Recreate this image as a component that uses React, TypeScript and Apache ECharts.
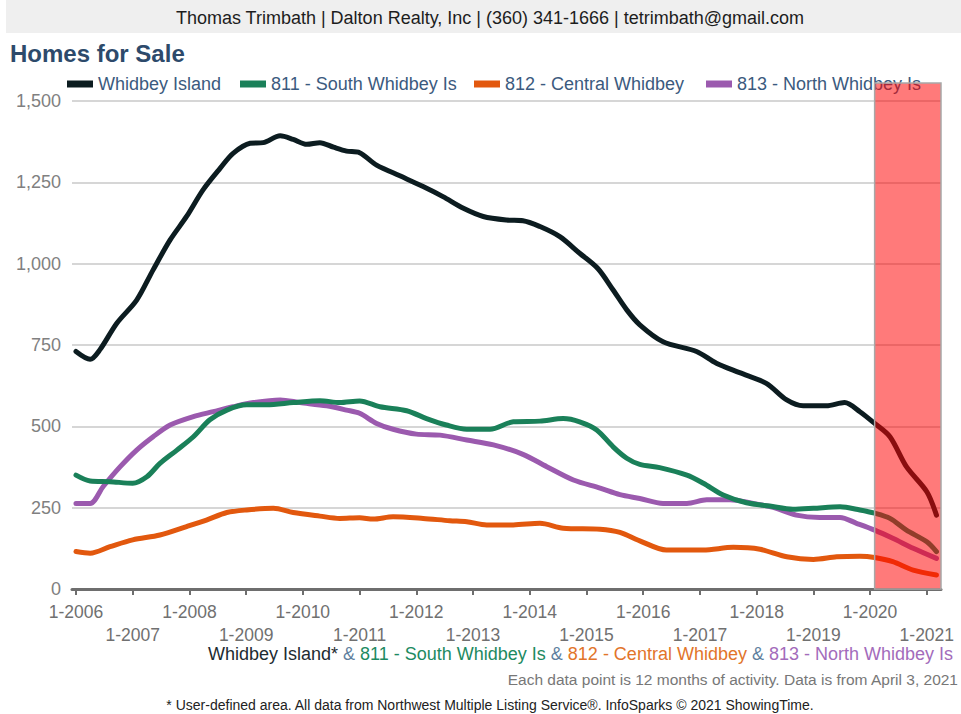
import React, { useEffect, useRef } from "react";
import * as echarts from "echarts";

const SERIES_NAMES = ["Whidbey Island", "811 - South Whidbey Is", "812 - Central Whidbey", "813 - North Whidbey Is"];
const SERIES_COLORS = ["#0c1c20", "#1a8059", "#e2580e", "#9b5aae"];

// [year (decimal), homes for sale]
const whidbeyIsland: [number, number][] = [
  [2006.0, 730], [2006.25, 706], [2006.42, 735], [2006.72, 817], [2007.07, 888], [2007.36, 981],
  [2007.66, 1073], [2007.95, 1145], [2008.24, 1227], [2008.54, 1293], [2008.77, 1339], [2009.07, 1370],
  [2009.3, 1372], [2009.6, 1393], [2009.83, 1382], [2010.07, 1367], [2010.3, 1372], [2010.54, 1358],
  [2010.77, 1346], [2011.0, 1341], [2011.3, 1303], [2011.71, 1270], [2012.12, 1237], [2012.47, 1206],
  [2012.83, 1170], [2013.18, 1145], [2013.59, 1134], [2013.88, 1132], [2014.18, 1114], [2014.53, 1083],
  [2014.88, 1032], [2015.2, 985], [2015.47, 919], [2015.71, 858], [2015.94, 812], [2016.35, 760],
  [2016.94, 730], [2017.29, 694], [2017.7, 665], [2018.17, 632], [2018.53, 581], [2018.82, 563],
  [2019.23, 563], [2019.55, 573], [2019.82, 545], [2020.08, 509], [2020.35, 468], [2020.64, 376],
  [2021.0, 299], [2021.17, 227],
];
const southWhidbey: [number, number][] = [
  [2006.0, 350], [2006.25, 332], [2006.6, 330], [2007.0, 325], [2007.25, 345], [2007.48, 386],
  [2007.78, 427], [2008.07, 468], [2008.36, 520], [2008.66, 550], [2009.01, 566], [2009.36, 566],
  [2009.83, 573], [2010.3, 579], [2010.65, 573], [2011.0, 578], [2011.36, 560], [2011.83, 548],
  [2012.18, 524], [2012.53, 504], [2012.89, 491], [2013.3, 491], [2013.71, 514], [2014.18, 516],
  [2014.59, 524], [2014.88, 514], [2015.18, 489], [2015.47, 437], [2015.71, 402], [2015.94, 383],
  [2016.29, 373], [2016.77, 350], [2017.06, 325], [2017.41, 289], [2017.82, 265], [2018.23, 255],
  [2018.64, 245], [2019.0, 248], [2019.47, 253], [2019.82, 243], [2020.08, 233], [2020.35, 217],
  [2020.64, 181], [2021.0, 145], [2021.17, 115],
];
const centralWhidbey: [number, number][] = [
  [2006.0, 115], [2006.25, 110], [2006.6, 130], [2007.0, 151], [2007.48, 166], [2007.95, 192],
  [2008.3, 212], [2008.66, 235], [2009.01, 243], [2009.48, 248], [2009.83, 235], [2010.3, 224],
  [2010.65, 217], [2011.0, 219], [2011.24, 215], [2011.59, 222], [2012.12, 217], [2012.59, 210],
  [2012.89, 207], [2013.24, 197], [2013.71, 197], [2014.18, 202], [2014.59, 187], [2015.24, 184],
  [2015.59, 174], [2015.94, 148], [2016.41, 120], [2017.06, 120], [2017.59, 128], [2018.06, 122],
  [2018.53, 99], [2019.0, 91], [2019.41, 99], [2019.82, 101], [2020.08, 97], [2020.4, 84],
  [2020.76, 58], [2021.17, 43],
];
const northWhidbey: [number, number][] = [
  [2006.0, 263], [2006.25, 263], [2006.48, 315], [2006.78, 376], [2007.07, 427], [2007.36, 468],
  [2007.66, 504], [2008.07, 530], [2008.42, 545], [2008.77, 560], [2009.13, 573], [2009.6, 581],
  [2009.95, 573], [2010.42, 563], [2010.77, 550], [2011.0, 540], [2011.3, 509], [2011.59, 491],
  [2012.0, 476], [2012.42, 473], [2012.89, 458], [2013.36, 443], [2013.88, 414], [2014.3, 376],
  [2014.77, 335], [2015.24, 310], [2015.59, 290], [2015.94, 278], [2016.35, 263], [2016.77, 263],
  [2017.12, 274], [2017.53, 274], [2017.94, 263], [2018.29, 251], [2018.7, 227], [2019.11, 220],
  [2019.47, 220], [2019.76, 202], [2020.08, 181], [2020.4, 156], [2020.76, 125], [2021.17, 94],
];
const SERIES_DATA = [whidbeyIsland, southWhidbey, centralWhidbey, northWhidbey];

const YEARS = [2006, 2007, 2008, 2009, 2010, 2011, 2012, 2013, 2014, 2015, 2016, 2017, 2018, 2019, 2020, 2021];
const EVEN_YEARS = YEARS.filter((y) => y % 2 === 0);
const ODD_YEARS = YEARS.filter((y) => y % 2 === 1);
const X_MIN = 2005.93;
const X_MAX = 2021.25;
const Y_TICKS_MAX = 1500;
const HIGHLIGHT_PERIOD = [2020.08, X_MAX];
const HIGHLIGHT_TOP = 1555;

const HEADER = "Thomas Trimbath | Dalton Realty, Inc | (360) 341-1666 | tetrimbath@gmail.com";
const TITLE = "Homes for Sale";
const NOTE1 = "Each data point is 12 months of activity. Data is from April 3, 2021";
const NOTE2 = "* User-defined area. All data from Northwest Multiple Listing Service®. InfoSparks © 2021 ShowingTime.";

const LEGEND_LEFT = [67, 240, 474, 706];
const FONT = "Liberation Sans";

export default function App() {
  const ref = useRef<HTMLDivElement>(null);
  useEffect(() => {
    if (!ref.current) return;
    const chart = echarts.init(ref.current, undefined, { renderer: "svg" });
    const yearLabel = (v: number) => "1-" + Math.round(v);
    const capSize = 18;
    const option: any = {
      animation: false,
      textStyle: { fontFamily: FONT },
      title: {
        text: TITLE,
        left: 10,
        top: 41,
        padding: 0,
        textStyle: { fontSize: 24, fontWeight: "bold", color: "#2d4a6b", fontFamily: FONT },
      },
      legend: SERIES_NAMES.map((n, i) => ({
        data: [n],
        left: LEGEND_LEFT[i],
        top: 75,
        padding: 0,
        icon: "rect",
        itemWidth: 26,
        itemHeight: 7,
        selectedMode: false,
        textStyle: { fontSize: 18, color: "#3b5a7e", lineHeight: 18, fontFamily: FONT },
      })),
      grid: { left: 72, top: 101, width: 869, height: 488 },
      xAxis: [
        {
          type: "value",
          min: X_MIN,
          max: X_MAX,
          axisLine: { show: true, lineStyle: { color: "#6e6e6e", width: 3 } },
          axisTick: { show: true, customValues: YEARS, length: 6, lineStyle: { color: "#6e6e6e", width: 2 } },
          axisLabel: { customValues: EVEN_YEARS, formatter: yearLabel, margin: 14, fontSize: 17.5, color: "#707070" },
          splitLine: { show: false },
        },
        {
          type: "value",
          min: X_MIN,
          max: X_MAX,
          position: "bottom",
          axisLine: { show: false },
          axisTick: { show: false },
          axisLabel: { customValues: ODD_YEARS, formatter: yearLabel, margin: 37, fontSize: 17.5, color: "#707070" },
          splitLine: { show: false },
        },
      ],
      yAxis: {
        type: "value",
        min: 0,
        max: Y_TICKS_MAX,
        interval: 250,
        axisLine: { show: false },
        axisTick: { show: false },
        axisLabel: {
          formatter: (v: number) => v.toLocaleString("en-US"),
          fontSize: 18,
          color: "#808080",
          margin: 11,
        },
        splitLine: { lineStyle: { color: "#c8c8c8", width: 1.5 } },
      },
      series: SERIES_NAMES.map((n, i) => ({
        name: n,
        type: "line",
        data: SERIES_DATA[i],
        xAxisIndex: 0,
        yAxisIndex: 0,
        color: SERIES_COLORS[i],
        showSymbol: false,
        smooth: 0.3,
        lineStyle: { width: 5, color: SERIES_COLORS[i], cap: "round", join: "round" },
        z: 2 + (3 - i),
      })),
      graphic: [
        { id: "hdrBg", type: "rect", shape: { x: 6, y: 0, width: 955, height: 33 }, style: { fill: "#efefef" }, z: 0 },
        {
          id: "hdrText",
          type: "text",
          x: 490,
          y: 18,
          style: { text: HEADER, fontSize: 18, fill: "#1d1d1d", align: "center", verticalAlign: "middle", fontFamily: FONT },
        },
        {
          id: "caption",
          type: "text",
          x: 208,
          y: 654,
          style: {
            text:
              "{a|Whidbey Island*}{s| & }{b|811 - South Whidbey Is}{s| & }{c|812 - Central Whidbey}{s| & }{d|813 - North Whidbey Is}",
            fontSize: capSize,
            fontFamily: FONT,
            verticalAlign: "middle",
            rich: {
              a: { fill: "#1d2b31", fontSize: capSize, fontFamily: FONT },
              s: { fill: "#5e7f9e", fontSize: capSize, fontFamily: FONT },
              b: { fill: "#1d8a61", fontSize: capSize, fontFamily: FONT },
              c: { fill: "#e2742a", fontSize: capSize, fontFamily: FONT },
              d: { fill: "#a36bbb", fontSize: capSize, fontFamily: FONT },
            },
          },
        },
        {
          id: "note1",
          type: "text",
          x: 958,
          y: 679,
          style: { text: NOTE1, fontSize: 15.5, fill: "#777777", align: "right", verticalAlign: "middle", fontFamily: FONT },
        },
        {
          id: "note2",
          type: "text",
          x: 490,
          y: 705,
          style: { text: NOTE2, fontSize: 14, fill: "#222222", align: "center", verticalAlign: "middle", fontFamily: FONT },
        },
      ],
    };
    chart.setOption(option);

    const x0 = chart.convertToPixel({ xAxisIndex: 0 }, HIGHLIGHT_PERIOD[0]) as number;
    const x1 = chart.convertToPixel({ xAxisIndex: 0 }, HIGHLIGHT_PERIOD[1]) as number;
    const y0 = chart.convertToPixel({ yAxisIndex: 0 }, HIGHLIGHT_TOP) as number;
    const y1 = chart.convertToPixel({ yAxisIndex: 0 }, 0) as number;
    chart.setOption({
      graphic: [
        {
          id: "highlight",
          type: "rect",
          z: 100,
          shape: { x: x0, y: y0, width: x1 - x0, height: y1 - y0 },
          style: { fill: "rgba(255,0,0,0.52)", stroke: "#a8a8a8", lineWidth: 1.5 },
        },
      ],
    });

    return () => chart.dispose();
  }, []);
  return (
    <div
      ref={ref}
      style={{ position: "absolute", left: 0, top: 0, width: 961, height: 714, background: "#ffffff" }}
    />
  );
}
